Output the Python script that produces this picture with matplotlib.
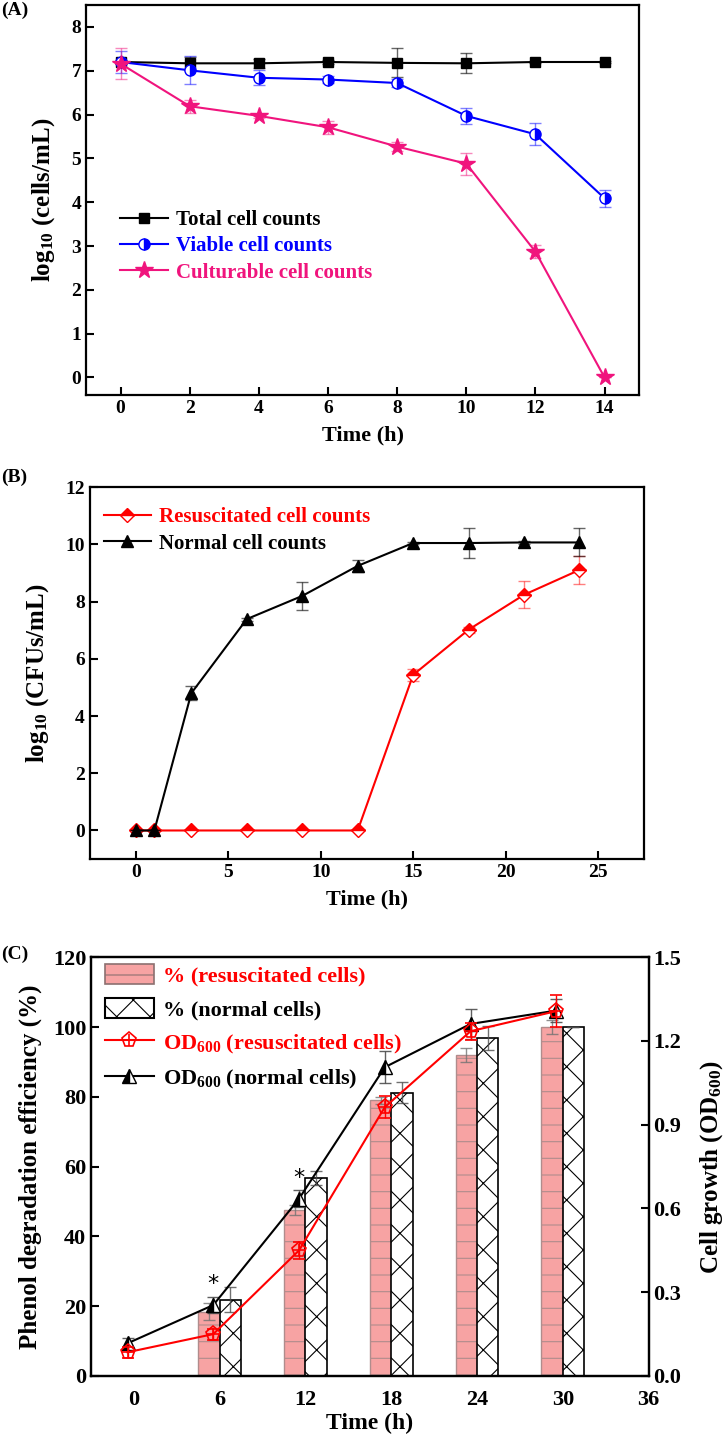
import numpy as np
import matplotlib
matplotlib.use("Agg")
import matplotlib.pyplot as plt
from matplotlib.patches import Patch
from matplotlib.lines import Line2D
from matplotlib.legend_handler import HandlerTuple

plt.rcParams['font.family'] = ['Liberation Serif', 'DejaVu Serif']
plt.rcParams['font.weight'] = 'bold'
plt.rcParams['axes.labelweight'] = 'bold'
plt.rcParams['mathtext.fontset'] = 'custom'
plt.rcParams['mathtext.rm'] = 'Liberation Serif:bold'
plt.rcParams['mathtext.bf'] = 'Liberation Serif:bold'
plt.rcParams['mathtext.it'] = 'Liberation Serif:bold'
plt.rcParams['mathtext.default'] = 'rm'
plt.rcParams['hatch.linewidth'] = 0.8

# ---------------- Panel A data ----------------
time_a = [0, 2, 4, 6, 8, 10, 12, 14]
total_a = [7.20, 7.17, 7.17, 7.20, 7.18, 7.17, 7.20, 7.20]
total_err = [0.05, 0.15, 0.10, 0.05, 0.33, 0.23, 0.03, 0.03]
viable_a = [7.20, 7.01, 6.84, 6.80, 6.72, 5.97, 5.55, 4.09]
viable_err = [0.25, 0.32, 0.17, 0.08, 0.10, 0.18, 0.25, 0.20]
cult_a = [7.16, 6.19, 5.97, 5.71, 5.27, 4.88, 2.87, 0.0]
cult_err = [0.35, 0.15, 0.05, 0.15, 0.10, 0.25, 0.15, 0.0]
labels_a = ['Total cell counts', 'Viable cell counts', 'Culturable cell counts']

# ---------------- Panel B data ----------------
time_b = [0, 1, 3, 6, 9, 12, 15, 18, 21, 24]
resus_b = [0, 0, 0, 0, 0, 0, 5.44, 7.02, 8.24, 9.11]
resus_err = [0, 0, 0, 0, 0, 0, 0.20, 0.10, 0.47, 0.50]
normal_b = [0, 0, 4.80, 7.39, 8.20, 9.25, 10.05, 10.05, 10.07, 10.07]
normal_err = [0, 0, 0.25, 0.05, 0.49, 0.20, 0.05, 0.51, 0.05, 0.49]
labels_b = ['Resuscitated cell counts', 'Normal cell counts']

# ---------------- Panel C data ----------------
time_c = [0, 6, 12, 18, 24, 30]
pct_resus = [0, 18.4, 47.5, 79.0, 92.0, 100.0]
pct_resus_err = [0, 2.5, 1.5, 1.0, 2.0, 2.0]
pct_normal = [0, 21.8, 56.6, 81.1, 96.9, 100.0]
pct_normal_err = [0, 3.6, 2.0, 3.0, 3.5, 0.0]
od_resus = [0.085, 0.150, 0.450, 0.963, 1.235, 1.307]
od_resus_err = [0.02, 0.02, 0.03, 0.04, 0.03, 0.057]
od_normal = [0.117, 0.254, 0.635, 1.106, 1.261, 1.309]
od_normal_err = [0.02, 0.03, 0.03, 0.058, 0.054, 0.04]
labels_c = ['% (resuscitated cells)', '% (normal cells)',
            'OD$_{600}$ (resuscitated cells)', 'OD$_{600}$ (normal cells)']
star_times = [6, 12]

BLUE = '#0000FF'
PINK = '#F0147D'
RED = '#FF0000'
BARPINK = '#F7A3A3'

fig = plt.figure(figsize=(7.23, 14.39), dpi=100)

def style_axes(ax, lw=1.6):
    for s in ax.spines.values():
        s.set_linewidth(lw)

# ================= Panel A =================
axA = fig.add_axes([0.119, 0.7255, 0.765, 0.271])
style_axes(axA)
axA.errorbar(time_a, total_a, yerr=total_err, color='black', marker='s', ms=7,
             lw=1.5, ecolor=(0, 0, 0, 0.6), elinewidth=1, capsize=4, capthick=1,
             label=labels_a[0], zorder=3)
axA.errorbar(time_a, viable_a, yerr=viable_err, color=BLUE, marker='o', ms=8,
             fillstyle='right', markerfacecolor=BLUE, markerfacecoloralt='white',
             markeredgecolor=BLUE, lw=1.5, ecolor=(0, 0, 1, 0.5), elinewidth=1,
             capsize=4, capthick=1, label=labels_a[1], zorder=3)
axA.errorbar(time_a, cult_a, yerr=cult_err, color=PINK, marker='*', ms=13,
             lw=1.5, ecolor=(0.94, 0.08, 0.49, 0.5), elinewidth=1, capsize=4,
             capthick=1, label=labels_a[2], zorder=3)
axA.set_xlim(-1, 15)
axA.set_ylim(-0.4, 8.5)
axA.set_xticks(range(0, 15, 2))
axA.set_yticks(range(0, 9))
axA.tick_params(direction='in', length=6, width=1.5, labelsize=14)
axA.set_xlabel('Time (h)', fontsize=16, labelpad=6)
axA.set_ylabel('log$_{10}$ (cells/mL)', fontsize=18, labelpad=10)
handlesA, _ = axA.get_legend_handles_labels()
handlesA = [h[0] for h in handlesA]
legA = axA.legend(handlesA, labels_a, loc='upper left', bbox_to_anchor=(0.062, 0.474),
                  frameon=False, fontsize=15, handlelength=2.3, handletextpad=0.35,
                  labelspacing=0.3, borderpad=0, borderaxespad=0)
for t, c in zip(legA.get_texts(), ['black', BLUE, PINK]):
    t.set_color(c)
fig.text(0.002, 0.999, '(A)', fontsize=14, fontweight='bold', va='top', ha='left')

# ================= Panel B =================
axB = fig.add_axes([0.124, 0.403, 0.767, 0.2584])
style_axes(axB)
axB.errorbar(time_b, resus_b, yerr=resus_err, color=RED, marker='D', ms=7,
             fillstyle='top', markerfacecolor=RED, markerfacecoloralt='white',
             markeredgecolor=RED, lw=1.5, ecolor=(1, 0, 0, 0.5), elinewidth=1,
             capsize=4, capthick=1, label=labels_b[0], zorder=3)
axB.errorbar(time_b, normal_b, yerr=normal_err, color='black', marker='^', ms=9,
             lw=1.5, ecolor=(0, 0, 0, 0.6), elinewidth=1, capsize=4, capthick=1,
             label=labels_b[1], zorder=4)
axB.set_xlim(-2.5, 27.5)
axB.set_ylim(-1, 12)
axB.set_xticks(range(0, 26, 5))
axB.set_yticks(range(0, 13, 2))
axB.tick_params(direction='in', length=6, width=1.5, labelsize=14)
axB.set_xlabel('Time (h)', fontsize=16, labelpad=6)
axB.set_ylabel('log$_{10}$ (CFUs/mL)', fontsize=18, labelpad=10)
handlesB, _ = axB.get_legend_handles_labels()
handlesB = [h[0] for h in handlesB]
legB = axB.legend(handlesB, labels_b, loc='upper left', bbox_to_anchor=(0.025, 0.946),
                  frameon=False, fontsize=15, handlelength=2.3, handletextpad=0.35,
                  labelspacing=0.3, borderpad=0, borderaxespad=0)
for t, c in zip(legB.get_texts(), [RED, 'black']):
    t.set_color(c)
fig.text(0.002, 0.668, '(B)', fontsize=14, fontweight='bold', va='center', ha='left')

# ================= Panel C =================
axC = fig.add_axes([0.126, 0.0438, 0.771, 0.291])
style_axes(axC)
axC2 = axC.twinx()
style_axes(axC2)
tc = np.array(time_c, dtype=float)
bw = 1.5
axC.bar(tc - bw / 2, pct_resus, width=bw, color=BARPINK, edgecolor='#B08C8C',
        hatch='-', linewidth=1.0, zorder=2)
axC.errorbar(tc - bw / 2, pct_resus, yerr=pct_resus_err, fmt='none',
             ecolor=(0.45, 0.45, 0.45, 0.8), elinewidth=1, capsize=4, capthick=1, zorder=3)
axC.bar(tc + bw / 2, pct_normal, width=bw, color='white', edgecolor='black',
        hatch='x', linewidth=1.2, zorder=2)
axC.errorbar(tc + bw / 2, pct_normal, yerr=pct_normal_err, fmt='none',
             ecolor=(0.3, 0.3, 0.3, 0.8), elinewidth=1, capsize=4, capthick=1, zorder=3)
axC.set_xlim(-3, 36)
axC.set_ylim(0, 120)
axC.set_xticks(range(0, 37, 6))
axC.set_yticks(range(0, 121, 20))
axC.tick_params(axis='y', direction='in', length=6, width=1.5, labelsize=16)
axC.tick_params(axis='x', length=0, labelsize=16, pad=10)
axC.set_xlabel('Time (h)', fontsize=17, labelpad=2)
axC.set_ylabel('Phenol degradation efficiency (%)', fontsize=18, labelpad=8)

tl = tc - 0.45
axC2.errorbar(tl, od_normal, yerr=od_normal_err, color='black', marker='^', ms=10,
              fillstyle='left', markerfacecolor='black', markerfacecoloralt='white',
              markeredgecolor='black', lw=1.5, ecolor=(0.3, 0.3, 0.3, 0.9),
              elinewidth=1, capsize=4, capthick=1, zorder=4)
axC2.errorbar(tl, od_resus, yerr=od_resus_err, color=RED, marker='p', ms=11,
              markerfacecolor='none', markeredgecolor=RED, mew=1.2, lw=1.5,
              ecolor=RED, elinewidth=1, capsize=4, capthick=1, zorder=5)
axC2.plot(tl, od_resus, linestyle='none', marker='+', ms=8, mew=1.2, color=RED, zorder=6)
for st in star_times:
    i = time_c.index(st)
    axC2.annotate('*', xy=(tl[i], od_normal[i]), xytext=(0, 8),
                  textcoords='offset points', ha='center', va='bottom',
                  fontsize=16, fontweight='normal', family='DejaVu Sans')
axC2.set_ylim(0, 1.5)
axC2.set_yticks(np.arange(0, 1.51, 0.3))
axC2.set_yticklabels(['0.0', '0.3', '0.6', '0.9', '1.2', '1.5'])
axC2.tick_params(axis='y', direction='in', length=6, width=1.5, labelsize=16)
axC2.set_ylabel('Cell growth (OD$_{600}$)', fontsize=18, labelpad=12)

hR = Patch(facecolor=BARPINK, edgecolor='#8C7070', hatch='-', linewidth=1.2)
hN = Patch(facecolor='white', edgecolor='black', hatch='x', linewidth=1.5)
hOR = (Line2D([], [], color=RED, marker='p', ms=11, mfc='none', mec=RED, mew=1.2, lw=1.5),
       Line2D([], [], color=RED, marker='+', ms=8, mew=1.2, lw=0))
hON = Line2D([], [], color='black', marker='^', ms=10, fillstyle='left',
             markerfacecolor='black', markerfacecoloralt='white', mec='black', lw=1.5)
legC = axC2.legend([hR, hN, hOR, hON], labels_c, loc='upper left',
                   bbox_to_anchor=(0.025, 0.985), frameon=False, fontsize=16,
                   handlelength=2.2, handleheight=1.05, handletextpad=0.4,
                   labelspacing=0.5, borderpad=0, borderaxespad=0,
                   handler_map={tuple: HandlerTuple(ndivide=1, pad=0)})
for t, c in zip(legC.get_texts(), [RED, 'black', RED, 'black']):
    t.set_color(c)
fig.text(0.002, 0.337, '(C)', fontsize=14, fontweight='bold', va='center', ha='left')

fig.savefig('out.png', dpi=100)
